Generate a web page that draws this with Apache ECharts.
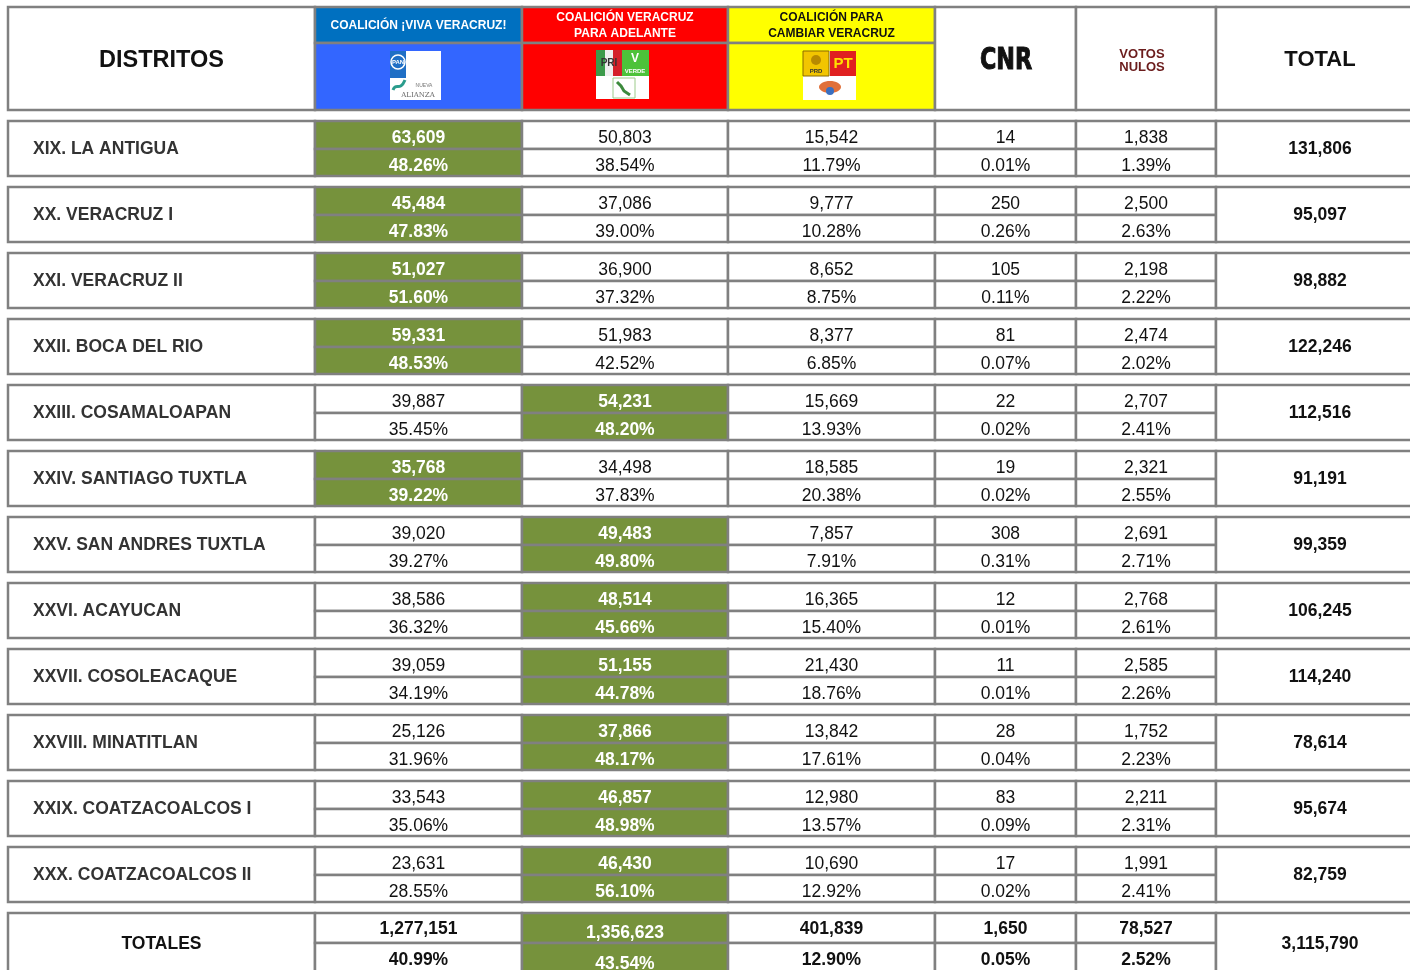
<!DOCTYPE html>
<html>
<head>
<meta charset="utf-8">
<title>Distritos Veracruz</title>
<script src="https://cdn.jsdelivr.net/npm/echarts@6/dist/echarts.min.js"></script>
<style>
  html, body { margin: 0; padding: 0; background: #fff; }
  #main { width: 1410px; height: 970px; }
</style>
</head>
<body>
<div id="main"></div>
<script>
// datos por distrito
const DISTRICTS = ['XIX. LA ANTIGUA', 'XX. VERACRUZ I', 'XXI. VERACRUZ II', 'XXII. BOCA DEL RIO',
  'XXIII. COSAMALOAPAN', 'XXIV. SANTIAGO TUXTLA', 'XXV. SAN ANDRES TUXTLA', 'XXVI. ACAYUCAN',
  'XXVII. COSOLEACAQUE', 'XXVIII. MINATITLAN', 'XXIX. COATZACOALCOS I', 'XXX. COATZACOALCOS II']
const VIVA_VOTES = [63609, 45484, 51027, 59331, 39887, 35768, 39020, 38586, 39059, 25126, 33543, 23631]
const VIVA_PCT = [48.26, 47.83, 51.60, 48.53, 35.45, 39.22, 39.27, 36.32, 34.19, 31.96, 35.06, 28.55]
const ADELANTE_VOTES = [50803, 37086, 36900, 51983, 54231, 34498, 49483, 48514, 51155, 37866, 46857, 46430]
const ADELANTE_PCT = [38.54, 39.00, 37.32, 42.52, 48.20, 37.83, 49.80, 45.66, 44.78, 48.17, 48.98, 56.10]
const CAMBIAR_VOTES = [15542, 9777, 8652, 8377, 15669, 18585, 7857, 16365, 21430, 13842, 12980, 10690]
const CAMBIAR_PCT = [11.79, 10.28, 8.75, 6.85, 13.93, 20.38, 7.91, 15.40, 18.76, 17.61, 13.57, 12.92]
const CNR_VOTES = [14, 250, 105, 81, 22, 19, 308, 12, 11, 28, 83, 17]
const CNR_PCT = [0.01, 0.26, 0.11, 0.07, 0.02, 0.02, 0.31, 0.01, 0.01, 0.04, 0.09, 0.02]
const NULOS_VOTES = [1838, 2500, 2198, 2474, 2707, 2321, 2691, 2768, 2585, 1752, 2211, 1991]
const NULOS_PCT = [1.39, 2.63, 2.22, 2.02, 2.41, 2.55, 2.71, 2.61, 2.26, 2.23, 2.31, 2.41]
const ROW_TOTALS = [131806, 95097, 98882, 122246, 112516, 91191, 99359, 106245, 114240, 78614, 95674, 82759]

// fila de totales
const TOTALES_VOTES = [1277151, 1356623, 401839, 1650, 78527]
const TOTALES_PCT = [40.99, 43.54, 12.90, 0.05, 2.52]
const GRAND_TOTAL = 3115790

// encabezados
const COALITIONS = ['COALICIÓN ¡VIVA VERACRUZ!', 'COALICIÓN VERACRUZ\nPARA ADELANTE', 'COALICIÓN PARA\nCAMBIAR VERACRUZ']

// layout (pixeles del eje)
const COL_EDGES = [8, 315, 522, 728, 935, 1076, 1216, 1424]
const HEAD_TOP = 7, HEAD_SPLIT = 43, HEAD_BOTTOM = 110
const ROW_TOP = 121, ROW_PITCH = 66, ROW_H = 55, ROW_MID = 28
const TOT_TOP = 913, TOT_MID = 30, TOT_H = 67

const GRAY = '#808080'
const GREEN = '#76923C'
const FONT = '"Liberation Sans", Arial, sans-serif'

const fmtInt = (n) => n.toLocaleString('en-US')
const fmtPct = (p) => p.toFixed(2) + '%'

// construir celdas
const cells = []
function addCell (c0, c1, y0, y1, text, opt) {
  cells.push(Object.assign({
    box: [COL_EDGES[c0], y0, COL_EDGES[c1], y1],
    text: text,
    fill: '#fff',
    color: '#111',
    size: 17.5,
    weight: 'normal',
    align: 'center',
    dx: 0,
    dy: 0
  }, opt || {}))
}

// encabezado
addCell(0, 1, HEAD_TOP, HEAD_BOTTOM, 'DISTRITOS', { size: 23.5, weight: 'bold', dy: 2 })
const headTop = ['#0070C0', '#FF0000', '#FFFF00']
const headLow = ['#3366FF', '#FF0000', '#FFFF00']
const headText = ['#fff', '#fff', '#111']
for (let k = 0; k < 3; k++) {
  addCell(k + 1, k + 2, HEAD_TOP, HEAD_SPLIT, COALITIONS[k], {
    fill: headTop[k], color: headText[k], size: 12, weight: 'bold', lineHeight: 16, dy: 1
  })
  addCell(k + 1, k + 2, HEAD_SPLIT, HEAD_BOTTOM, '', { fill: headLow[k] })
}
addCell(4, 5, HEAD_TOP, HEAD_BOTTOM, '')
addCell(5, 6, HEAD_TOP, HEAD_BOTTOM, 'VOTOS\nNULOS', { size: 13, weight: 'bold', color: '#6B1C1C', lineHeight: 13, dx: -4, dy: 2 })
addCell(6, 7, HEAD_TOP, HEAD_BOTTOM, 'TOTAL', { size: 22, weight: 'bold', dy: 1.5 })

// filas de distritos
for (let i = 0; i < DISTRICTS.length; i++) {
  const top = ROW_TOP + i * ROW_PITCH
  const votes = [VIVA_VOTES[i], ADELANTE_VOTES[i], CAMBIAR_VOTES[i], CNR_VOTES[i], NULOS_VOTES[i]]
  const pcts = [VIVA_PCT[i], ADELANTE_PCT[i], CAMBIAR_PCT[i], CNR_PCT[i], NULOS_PCT[i]]
  const win = votes.slice(0, 3).indexOf(Math.max(...votes.slice(0, 3)))
  addCell(0, 1, top, top + ROW_H, DISTRICTS[i], { weight: 'bold', color: '#333', align: 'left', dy: 1 })
  for (let k = 0; k < 5; k++) {
    const isWin = k === win
    const o = isWin ? { fill: GREEN, color: '#fff', weight: 'bold', dy: 3.5 } : { dy: 3.5 }
    addCell(k + 1, k + 2, top, top + ROW_MID, fmtInt(votes[k]), o)
    addCell(k + 1, k + 2, top + ROW_MID, top + ROW_H, fmtPct(pcts[k]), o)
  }
  addCell(6, 7, top, top + ROW_H, fmtInt(ROW_TOTALS[i]), { weight: 'bold', dy: 0.5 })
}

// fila de totales
const totWin = TOTALES_VOTES.slice(0, 3).indexOf(Math.max(...TOTALES_VOTES.slice(0, 3)))
addCell(0, 1, TOT_TOP, TOT_TOP + TOT_H, 'TOTALES', { weight: 'bold', dy: -2 })
for (let k = 0; k < 5; k++) {
  const isWin = k === totWin
  const top = isWin ? { fill: GREEN, color: '#fff', weight: 'bold', dy: 5 } : { weight: 'bold', dy: 1 }
  const bottom = isWin ? { fill: GREEN, color: '#fff', weight: 'bold', dy: 3 } : { weight: 'bold', dy: -1.5 }
  addCell(k + 1, k + 2, TOT_TOP, TOT_TOP + TOT_MID, fmtInt(TOTALES_VOTES[k]), top)
  addCell(k + 1, k + 2, TOT_TOP + TOT_MID, TOT_TOP + TOT_H, fmtPct(TOTALES_PCT[k]), bottom)
}
addCell(6, 7, TOT_TOP, TOT_TOP + TOT_H, fmtInt(GRAND_TOTAL), { weight: 'bold', dy: -2 })

function renderCell (params, api) {
  const cell = cells[params.dataIndex]
  const p0 = api.coord([api.value(0), api.value(1)])
  const p1 = api.coord([api.value(2), api.value(3)])
  const w = p1[0] - p0[0]
  const h = p1[1] - p0[1]
  const children = [{
    type: 'rect',
    shape: { x: p0[0], y: p0[1], width: w, height: h },
    style: { fill: cell.fill, stroke: GRAY, lineWidth: 2.5 }
  }]
  if (cell.text) {
    children.push({
      type: 'text',
      style: {
        text: cell.text,
        x: (cell.align === 'left' ? p0[0] + 25 : p0[0] + w / 2) + cell.dx,
        y: p0[1] + h / 2 + cell.dy,
        align: cell.align,
        verticalAlign: 'middle',
        fontSize: cell.size,
        fontWeight: cell.weight,
        fontFamily: FONT,
        lineHeight: cell.lineHeight,
        fill: cell.color
      }
    })
  }
  return { type: 'group', children: children }
}

// logos (decoracion del encabezado)
function logoViva () {
  return [
    { type: 'rect', shape: { x: 390, y: 51, width: 51, height: 49 }, style: { fill: '#fff' } },
    { type: 'rect', shape: { x: 390, y: 51, width: 16, height: 27 }, style: { fill: '#1F6FC5' } },
    { type: 'circle', shape: { cx: 398, cy: 62, r: 7 }, style: { fill: '#1F6FC5', stroke: '#fff', lineWidth: 1.5 } },
    { type: 'text', style: { text: 'PAN', x: 398, y: 62, align: 'center', verticalAlign: 'middle', fontSize: 6, fontWeight: 'bold', fill: '#fff', fontFamily: FONT } },
    { type: 'bezierCurve', shape: { x1: 393, y1: 90, x2: 405, y2: 80, cpx1: 396, cpy1: 82, cpx2: 400, cpy2: 92 }, style: { stroke: '#2A9C8C', lineWidth: 3, fill: null } },
    { type: 'text', style: { text: 'NUEVA', x: 424, y: 86, align: 'center', verticalAlign: 'middle', fontSize: 5, fill: '#777', fontFamily: FONT } },
    { type: 'text', style: { text: 'ALIANZA', x: 418, y: 95, align: 'center', verticalAlign: 'middle', fontSize: 7, fill: '#666', fontFamily: '"DejaVu Serif", serif' } }
  ]
}

function logoAdelante () {
  return [
    { type: 'rect', shape: { x: 596, y: 50, width: 53, height: 49 }, style: { fill: '#fff' } },
    { type: 'rect', shape: { x: 596, y: 50, width: 9, height: 26 }, style: { fill: '#3C9A4A' } },
    { type: 'rect', shape: { x: 605, y: 50, width: 8, height: 26 }, style: { fill: '#eee' } },
    { type: 'rect', shape: { x: 613, y: 50, width: 9, height: 26 }, style: { fill: '#D4202A' } },
    { type: 'text', style: { text: 'PRI', x: 609, y: 63, align: 'center', verticalAlign: 'middle', fontSize: 10, fontWeight: 'bold', fill: '#333', fontFamily: FONT } },
    { type: 'rect', shape: { x: 622, y: 50, width: 27, height: 26 }, style: { fill: '#4DC23A' } },
    { type: 'text', style: { text: 'V', x: 635, y: 59, align: 'center', verticalAlign: 'middle', fontSize: 12, fontWeight: 'bold', fill: '#fff', fontFamily: FONT } },
    { type: 'text', style: { text: 'VERDE', x: 635, y: 71, align: 'center', verticalAlign: 'middle', fontSize: 6, fontWeight: 'bold', fill: '#fff', fontFamily: FONT } },
    { type: 'rect', shape: { x: 613, y: 78, width: 22, height: 20 }, style: { fill: '#fff', stroke: '#9CCB8A', lineWidth: 1 } },
    { type: 'polyline', shape: { points: [[617, 82], [621, 86], [624, 91], [630, 95]] }, style: { stroke: '#3C8A3C', lineWidth: 3, fill: null } }
  ]
}

function logoCambiar () {
  return [
    { type: 'rect', shape: { x: 803, y: 51, width: 53, height: 49 }, style: { fill: '#fff' } },
    { type: 'rect', shape: { x: 803, y: 51, width: 26, height: 25 }, style: { fill: '#F2C500', stroke: '#8A6A00', lineWidth: 1 } },
    { type: 'circle', shape: { cx: 816, cy: 60, r: 5 }, style: { fill: '#B88A00' } },
    { type: 'text', style: { text: 'PRD', x: 816, y: 71, align: 'center', verticalAlign: 'middle', fontSize: 6, fontWeight: 'bold', fill: '#333', fontFamily: FONT } },
    { type: 'rect', shape: { x: 830, y: 51, width: 26, height: 25 }, style: { fill: '#E02020' } },
    { type: 'text', style: { text: 'PT', x: 843, y: 64, align: 'center', verticalAlign: 'middle', fontSize: 15, fontWeight: 'bold', fill: '#FFE000', fontFamily: FONT } },
    { type: 'ellipse', shape: { cx: 830, cy: 87, rx: 11, ry: 6 }, style: { fill: '#E0703A' } },
    { type: 'circle', shape: { cx: 830, cy: 91, r: 4 }, style: { fill: '#3A6FC0' } }
  ]
}

const chart = echarts.init(document.getElementById('main'))
chart.setOption({
  animation: false,
  backgroundColor: '#fff',
  grid: { left: 0, right: 0, top: 0, bottom: 0 },
  xAxis: { type: 'value', min: 0, max: 1410, show: false },
  yAxis: { type: 'value', min: 0, max: 970, inverse: true, show: false },
  series: [{
    type: 'custom',
    renderItem: renderCell,
    clip: false,
    data: cells.map(c => c.box)
  }],
  graphic: [].concat(logoViva(), logoAdelante(), logoCambiar(), [{
    type: 'text',
    x: 1006,
    y: 61,
    scaleX: 0.8,
    style: {
      text: 'CNR', align: 'center', verticalAlign: 'middle',
      font: 'bold 31px "DejaVu Sans Condensed", "DejaVu Sans", sans-serif',
      fill: '#111', stroke: '#111', lineWidth: 1
    }
  }]).map(g => Object.assign({ z: 100 }, g))
})
</script>
</body>
</html>
